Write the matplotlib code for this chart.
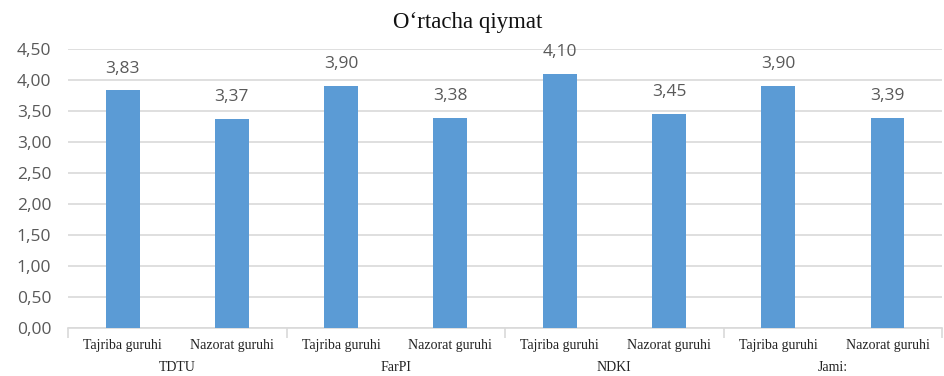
import numpy as np
import matplotlib.pyplot as plt
import matplotlib.transforms as mtransforms

categories = ["Tajriba guruhi", "Nazorat guruhi"] * 4
groups = ["TDTU", "FarPI", "NDKI", "Jami:"]
values = [3.83, 3.37, 3.90, 3.38, 4.10, 3.45, 3.90, 3.39]
yticks = [0.0, 0.5, 1.0, 1.5, 2.0, 2.5, 3.0, 3.5, 4.0, 4.5]

bar_color = "#5b9bd5"
grid_color = "#d9d9d9"
text_gray = "#595959"

fig = plt.figure(figsize=(9.44, 3.76), dpi=100)
ax = fig.add_axes([0.072, 0.128, 0.926, 0.742])

x = np.arange(len(values))
bars = ax.bar(x, values, width=0.31, color=bar_color, zorder=3)

def comma(v):
    return "{:.2f}".format(v).replace(".", ",")

ax.bar_label(bars, labels=[comma(v) for v in values], padding=10,
             fontsize=12.5, color=text_gray, family="Open Sans")

ax.set_xlim(-0.5, len(values) - 0.5)
ax.set_ylim(0, 4.5)
ax.set_yticks(yticks)
ax.set_yticklabels([comma(v) for v in yticks], fontsize=12.5, color=text_gray,
                   family="Open Sans")
ax.tick_params(axis="y", length=0, pad=12)
ax.yaxis.grid(True, color=grid_color, linewidth=1.2, zorder=0)

ax.set_xticks(x)
ax.set_xticklabels(categories, family="Liberation Serif", fontsize=10, color="#222222")
ax.tick_params(axis="x", which="major", length=0, pad=8)
ax.set_xticks(np.arange(-0.5, len(values), 2), minor=True)
ax.tick_params(axis="x", which="minor", length=7, color=grid_color, width=1.2)

for s in ["top", "right", "left"]:
    ax.spines[s].set_visible(False)
ax.spines["bottom"].set_color(grid_color)
ax.spines["bottom"].set_linewidth(1.2)

trans = mtransforms.blended_transform_factory(ax.transData, ax.transAxes)
for i, g in enumerate(groups):
    ax.text(2 * i + 0.5, -0.143, g, transform=trans, ha="center", va="center",
            family="Liberation Serif", fontsize=10, color="#222222")

fig.text(0.495, 0.94, "O\u2018rtacha qiymat", ha="center", va="center",
         family="Liberation Serif", fontsize=16.5, color="#111111")

fig.savefig("out.png", dpi=100)
